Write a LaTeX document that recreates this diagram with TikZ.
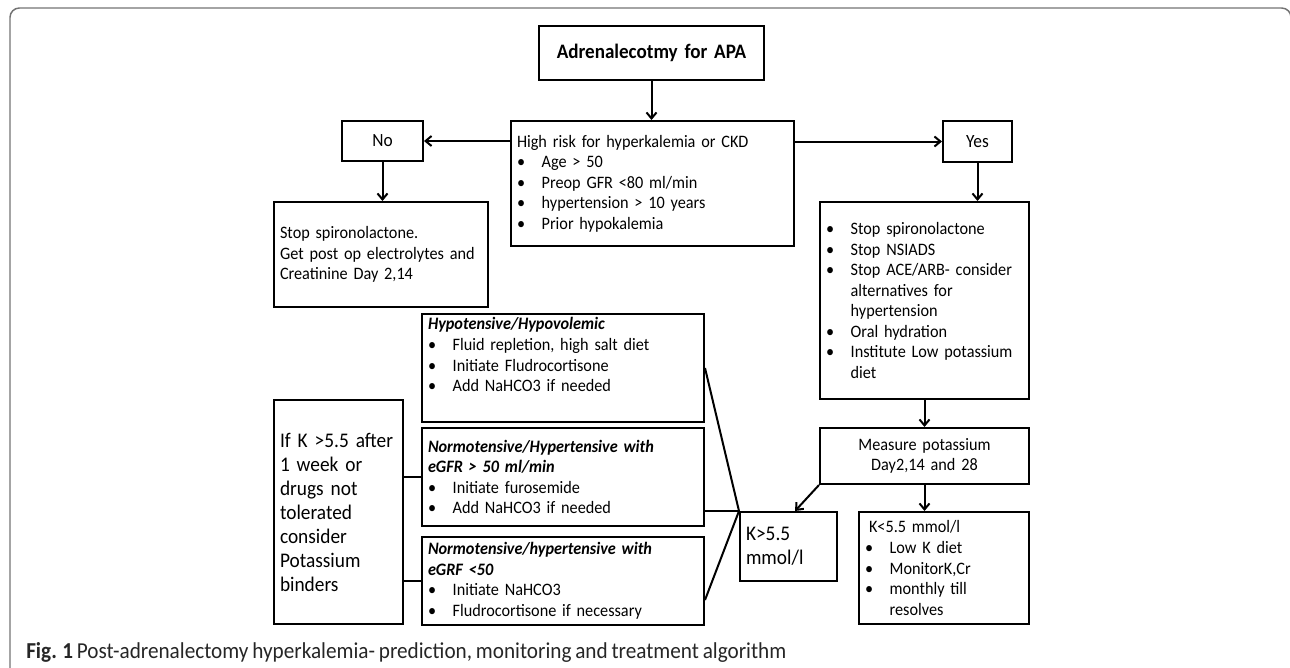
\documentclass[tikz,border=0pt]{standalone}
\usepackage{fontspec}
\setmainfont{Carlito}[WordSpace=0.8,FakeStretch=0.93]
\usetikzlibrary{arrows.meta}
\newcommand{\bl}{\makebox[18.5pt][l]{\textbullet}}
\newcommand{\ind}{\hspace*{18.5pt}}
\begin{document}
\begin{tikzpicture}[x=0.75pt,y=-0.75pt,
                    box/.style={draw,line width=1.5pt,inner xsep=4.5pt,inner ysep=0pt,align=left,font=\fontsize{13.1}{15.4}\selectfont},
                    big/.style={font=\fontsize{15.6}{18}\selectfont},
                    arr/.style={line width=1.5pt,-{Straight Barb[length=4.5pt,width=7.5pt]}},
                    link/.style={line width=1.5pt}]
                    \useasboundingbox (0,0) rectangle (1290,668);
                    \draw[black!55,line width=1.1pt,rounded corners=7pt] (10,8) rectangle (1291,720);

                    %NODE
                    \node[box,align=center,text width=159.75pt,minimum height=40.5pt,font=\fontsize{15.4}{17}\selectfont\bfseries] (A) at (651.5,53) {Adrenalecotmy for APA};
                    \node[box,text width=203.25pt,minimum height=93.75pt] (H) at (652.5,183.5) {High risk for hyperkalemia or CKD\\ \bl Age > 50\\ \bl Preop GFR <80 ml/min\\ \bl hypertension > 10 years\\ \bl Prior hypokalemia};
                    \node[box,align=center,text width=51.75pt,minimum height=30pt,font=\fontsize{14}{16}\selectfont] (N) at (382.5,141) {No};
                    \node[box,align=center,text width=42.75pt,minimum height=30.75pt,font=\fontsize{14}{16}\selectfont] (Y) at (977.5,141.5) {Yes};
                    \node[box,text width=151.5pt,minimum height=78.75pt] (S) at (381,254.5) {Stop spironolactone.\\ Get~post~op~electrolytes~and\\ Creatinine Day 2,14};
                    \node[box,text width=147.75pt,minimum height=147.75pt] (R) at (924.5,300.5) {\bl Stop spironolactone\\ \bl Stop NSIADS\\ \bl Stop~ACE/ARB-~consider\\ \ind alternatives for\\ \ind hypertension\\ \bl Oral hydration\\ \bl Institute~Low~potassium\\ \ind diet};
                    \node[box,align=center,text width=147.75pt,minimum height=42pt] (M) at (924.5,456) {Measure potassium\\ Day2,14 and 28};
                    \node[box,text width=118.5pt,minimum height=84pt] (L) at (944,568) {\hspace*{3pt}K<5.5 mmol/l\\ \bl Low K diet\\ \bl MonitorK,Cr\\ \bl monthly till\\ \ind resolves};
                    \node[box,big,text width=63.75pt,minimum height=51.75pt] (G) at (788.5,546.5) {K>5.5\\ mmol/l};
                    \node[box,text width=202.5pt,minimum height=81pt] (T1) at (563,368) {\textbf{\textit{Hypotensive/Hypovolemic}}\\ \bl Fluid repletion, high salt diet\\ \bl Initiate Fludrocortisone\\ \bl Add NaHCO3 if needed\\ \strut};
                    \node[box,text width=202.5pt,minimum height=73.5pt] (T2) at (563,477) {\textbf{\textit{Normotensive/Hypertensive with}}\\ \textbf{\textit{eGFR > 50 ml/min}}\\ \bl Initiate furosemide\\ \bl Add NaHCO3 if needed};
                    \node[box,text width=202.5pt,minimum height=66pt] (T3) at (563,581) {\textbf{\textit{Normotensive/hypertensive with}}\\ \textbf{\textit{eGRF <50}}\\ \bl Initiate NaHCO3\\ \bl Fludrocortisone if necessary};
                    \node[box,big,text width=87.75pt,minimum height=168pt] (P) at (338.5,512) {If K >5.5 after\\ 1 week or\\ drugs not\\ tolerated\\ consider\\ Potassium\\ binders};
                    \node[anchor=base west,inner sep=0pt,text=black!85,font=\fontsize{17.1}{19}\selectfont] (F) at (26,658) {\textbf{Fig. 1} Post-adrenalectomy hyperkalemia- prediction, monitoring and treatment algorithm};

                    %EDGE
                    \draw[arr] (A.south) -- (A.south |- H.north);
                    \draw[arr] (H.west |- N.east) -- (N.east);
                    \draw[arr] (H.east |- Y.west) -- (Y.west);
                    \draw[arr] (N.south) -- (N.south |- S.north);
                    \draw[arr] (Y.south) -- (Y.south |- R.north);
                    \draw[arr] (R.south) -- (M.north);
                    \draw[arr] (M.south) -- (M.south |- L.north);
                    \draw[arr] (M.south west) -- ([xshift=4.9pt]G.north);
                    \draw[link] (T1.east) -- (G.north west);
                    \draw[link] (G.north west) -- (G.north west -| T2.east);
                    \draw[link] ([yshift=-14.25pt]T3.east) -- (G.north west);
                    \draw[link] (T2.west) -- (T2.west -| P.east);
                    \draw[link] (T3.west) -- (T3.west -| P.east);
                \end{tikzpicture}
\end{document}
